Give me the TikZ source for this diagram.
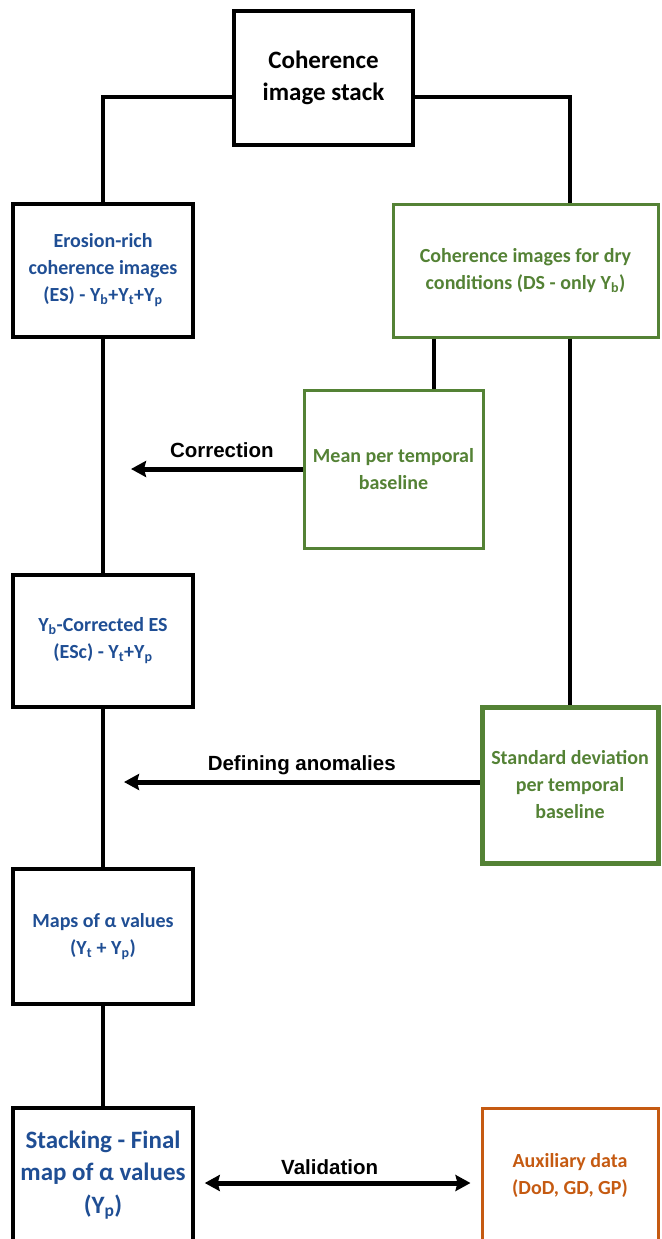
\documentclass[tikz,border=0pt]{standalone}
\usepackage{fontspec}
\setmainfont{Carlito}
\newfontfamily\labelfont{Liberation Sans}
\usetikzlibrary{arrows.meta,positioning}
\definecolor{esblue}{RGB}{31,78,148}
\definecolor{dsgreen}{RGB}{84,130,53}
\definecolor{auxorange}{RGB}{197,90,17}

\begin{document}
\begin{tikzpicture}[x=1pt,y=-1pt,
  stackbox/.style={rectangle,draw=black,line width=3.5pt,minimum width=179pt,minimum height=134pt,align=center,inner sep=2pt,font=\bfseries\fontsize{25}{32}\selectfont},
  esbox/.style={rectangle,draw=black,line width=3.5pt,minimum width=180pt,minimum height=133pt,align=center,inner sep=2pt,text=esblue,font=\bfseries\fontsize{20}{27}\selectfont},
  dsbox/.style={rectangle,draw=dsgreen,line width=3pt,minimum width=179pt,minimum height=133pt,align=center,inner sep=2pt,text=dsgreen,font=\bfseries\fontsize{20}{27}\selectfont},
  sdbox/.style={dsbox,line width=5pt,minimum width=176pt,minimum height=156pt},
  auxbox/.style={rectangle,draw=auxorange,line width=3pt,minimum width=176pt,minimum height=134pt,align=center,inner sep=2pt,text=auxorange,font=\bfseries\fontsize{20}{27}\selectfont},
  link/.style={line width=4pt,draw=black},
  arrow/.style={-{Stealth[length=15pt,width=16pt,inset=2pt]},line width=5pt,draw=black},
  dblarrow/.style={{Stealth[length=15pt,width=16pt,inset=2pt]}-{Stealth[length=15pt,width=16pt,inset=2pt]},line width=5pt,draw=black},
  lbl/.style={font=\labelfont\bfseries\fontsize{20.5}{24}\selectfont,anchor=base,inner sep=0pt}]
  \useasboundingbox (0,0) rectangle (661,1239);
  \node[stackbox] (stack) at (323.5,78) {Coherence\\image stack};
  \node[esbox] (erosion) at (103,270.5) {Erosion-rich\\coherence images\\(ES) - Y\textsubscript{b}+Y\textsubscript{t}+Y\textsubscript{p}};
  \node[dsbox,minimum width=265pt] (dry) at (525.5,270.5) {Coherence images for dry\\conditions (DS - only Y\textsubscript{b})};
  \node[dsbox,minimum height=158pt] (mean) at (393.5,469) {Mean per temporal\\baseline};
  \node[esbox,minimum height=132pt] (corrected) at (103,641) {Y\textsubscript{b}-Corrected ES\\(ESc) - Y\textsubscript{t}+Y\textsubscript{p}};
  \node[sdbox] (sdev) at (570,785) {Standard deviation\\per temporal\\baseline};
  \node[esbox,minimum height=135pt] (maps) at (103,936.5) {Maps of α values\\(Y\textsubscript{t} + Y\textsubscript{p})};
  \node[esbox,minimum height=134pt,font=\bfseries\fontsize{25}{32.5}\selectfont] (final) at (103,1175) {Stacking - Final\\map of α values\\(Y\textsubscript{p})};
  \node[auxbox] (aux) at (570,1175) {Auxiliary data\\(DoD, GD, GP)};
  \coordinate (corrtip) at (131,469);
  \coordinate (anomtip) at (124,782);
  % tree from the stack
  \draw[link] ([yshift=-19pt]stack.west) -| (erosion.north);
  \draw[link] ([yshift=-19pt]stack.east) -| (sdev.north |- dry.north);
  \draw[link] (sdev.north |- dry.south) -- (sdev.north);
  \draw[link] ([xshift=40pt]mean.north |- dry.south) -- ([xshift=40pt]mean.north);
  \draw[link] (erosion) -- (corrected);
  \draw[link] (corrected) -- (maps);
  \draw[link] (maps) -- (final);
  % arrows
  \draw[arrow] (mean) -- (corrtip) node[lbl,pos=0.47,yshift=12pt] {Correction};
  \draw[arrow] (sdev.west |- anomtip) -- (anomtip) node[lbl,midway,yshift=12pt] {Defining anomalies};
  \draw[dblarrow] ([xshift=10pt,yshift=-8pt]final.east) -- ([xshift=-10pt,yshift=-8pt]aux.west) node[lbl,pos=0.47,yshift=9pt] {Validation};
\end{tikzpicture}
\end{document}
